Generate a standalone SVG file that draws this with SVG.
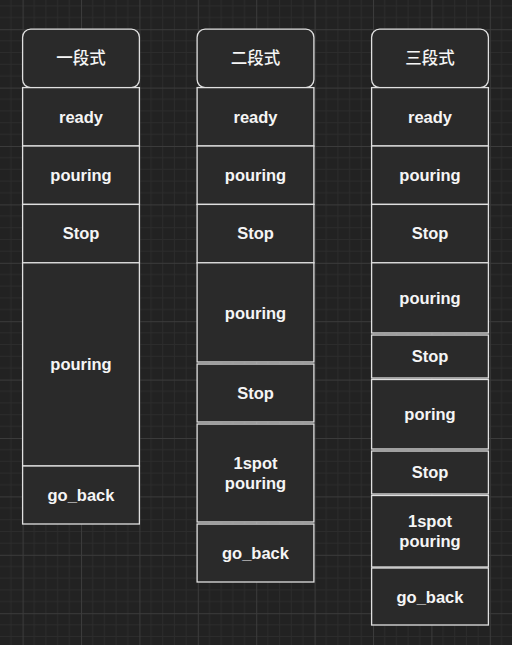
<svg xmlns="http://www.w3.org/2000/svg" width="512" height="645" viewBox="0 0 512 645">
<defs>
<pattern id="grid" patternUnits="userSpaceOnUse" x="22.6" y="29.2" width="58.4" height="58.4">
<rect width="58.4" height="58.4" fill="#222222"/>
<path d="M11.68 0V58.4M23.36 0V58.4M35.04 0V58.4M46.72 0V58.4M0 11.68H58.4M0 23.36H58.4M0 35.04H58.4M0 46.72H58.4" stroke="#2c2c2c" stroke-width="1" fill="none"/>
<path d="M0.5 0V58.4M0 0.5H58.4" stroke="#3b3b3b" stroke-width="1" fill="none"/>
</pattern>
<style>
.b{fill:#2a2a2a;stroke:#e0e0e0;stroke-width:1.3}
.t{font-family:"Liberation Sans",Arial,sans-serif;font-weight:bold;font-size:16.5px;fill:#f5f5f5;text-anchor:middle}
.h{font-family:"Noto Sans CJK SC","Noto Sans CJK JP",sans-serif;font-size:16.5px;font-weight:500;fill:#f5f5f5;text-anchor:middle}
</style>
</defs>
<rect width="512" height="645" fill="url(#grid)"/>
<g id="connectors"/>
<g id="col1">
<g id="c1-head"><rect class="b" x="22.6" y="29.2" width="116.8" height="58.4" rx="8"/><text class="h" x="81" y="64">一段式</text></g>
<g id="c1-ready"><rect class="b" x="22.6" y="87.6" width="116.8" height="58.4"/><text class="t" x="81" y="122.5">ready</text></g>
<g id="c1-pouring1"><rect class="b" x="22.6" y="146" width="116.8" height="58.4"/><text class="t" x="81" y="180.5">pouring</text></g>
<g id="c1-stop"><rect class="b" x="22.6" y="204.4" width="116.8" height="58.4"/><text class="t" x="81" y="239">Stop</text></g>
<g id="c1-pouring2"><rect class="b" x="22.6" y="262.8" width="116.8" height="203.2"/><text class="t" x="81" y="369.5">pouring</text></g>
<g id="c1-goback"><rect class="b" x="22.6" y="466" width="116.8" height="58"/><text class="t" x="81" y="500.5">go_back</text></g>
</g>
<g id="col2">
<g id="c2-head"><rect class="b" x="197.1" y="29.2" width="116.8" height="58.4" rx="8"/><text class="h" x="255.5" y="64">二段式</text></g>
<g id="c2-ready"><rect class="b" x="197.1" y="87.6" width="116.8" height="58.4"/><text class="t" x="255.5" y="122.5">ready</text></g>
<g id="c2-pouring1"><rect class="b" x="197.1" y="146" width="116.8" height="58.4"/><text class="t" x="255.5" y="180.5">pouring</text></g>
<g id="c2-stop1"><rect class="b" x="197.1" y="204.4" width="116.8" height="58.4"/><text class="t" x="255.5" y="239">Stop</text></g>
<g id="c2-pouring2"><rect class="b" x="197.1" y="262.8" width="116.8" height="99.2"/><text class="t" x="255.5" y="318.5">pouring</text></g>
<g id="c2-stop2"><rect class="b" x="197.1" y="364" width="116.8" height="58"/><text class="t" x="255.5" y="398.5">Stop</text></g>
<g id="c2-1spot"><rect class="b" x="197.1" y="424" width="116.8" height="98"/><text class="t" x="255.5" y="468.5">1spot</text><text class="t" x="255.5" y="488.5">pouring</text></g>
<g id="c2-goback"><rect class="b" x="197.1" y="524" width="116.8" height="58"/><text class="t" x="255.5" y="558.5">go_back</text></g>
</g>
<g id="col3">
<g id="c3-head"><rect class="b" x="371.6" y="29.2" width="116.8" height="58.4" rx="8"/><text class="h" x="430" y="64">三段式</text></g>
<g id="c3-ready"><rect class="b" x="371.6" y="87.6" width="116.8" height="58.4"/><text class="t" x="430" y="122.5">ready</text></g>
<g id="c3-pouring1"><rect class="b" x="371.6" y="146" width="116.8" height="58.4"/><text class="t" x="430" y="180.5">pouring</text></g>
<g id="c3-stop1"><rect class="b" x="371.6" y="204.4" width="116.8" height="58.4"/><text class="t" x="430" y="239">Stop</text></g>
<g id="c3-pouring2"><rect class="b" x="371.6" y="262.8" width="116.8" height="70.2"/><text class="t" x="430" y="304">pouring</text></g>
<g id="c3-stop2"><rect class="b" x="371.6" y="335" width="116.8" height="43"/><text class="t" x="430" y="362">Stop</text></g>
<g id="c3-poring"><rect class="b" x="371.6" y="379.5" width="116.8" height="69.5"/><text class="t" x="430" y="420">poring</text></g>
<g id="c3-stop3"><rect class="b" x="371.6" y="451" width="116.8" height="43"/><text class="t" x="430" y="478">Stop</text></g>
<g id="c3-1spot"><rect class="b" x="371.6" y="495.5" width="116.8" height="71.5"/><text class="t" x="430" y="526.5">1spot</text><text class="t" x="430" y="546.5">pouring</text></g>
<g id="c3-goback"><rect class="b" x="371.6" y="568" width="116.8" height="57"/><text class="t" x="430" y="602.5">go_back</text></g>
</g>
</svg>
